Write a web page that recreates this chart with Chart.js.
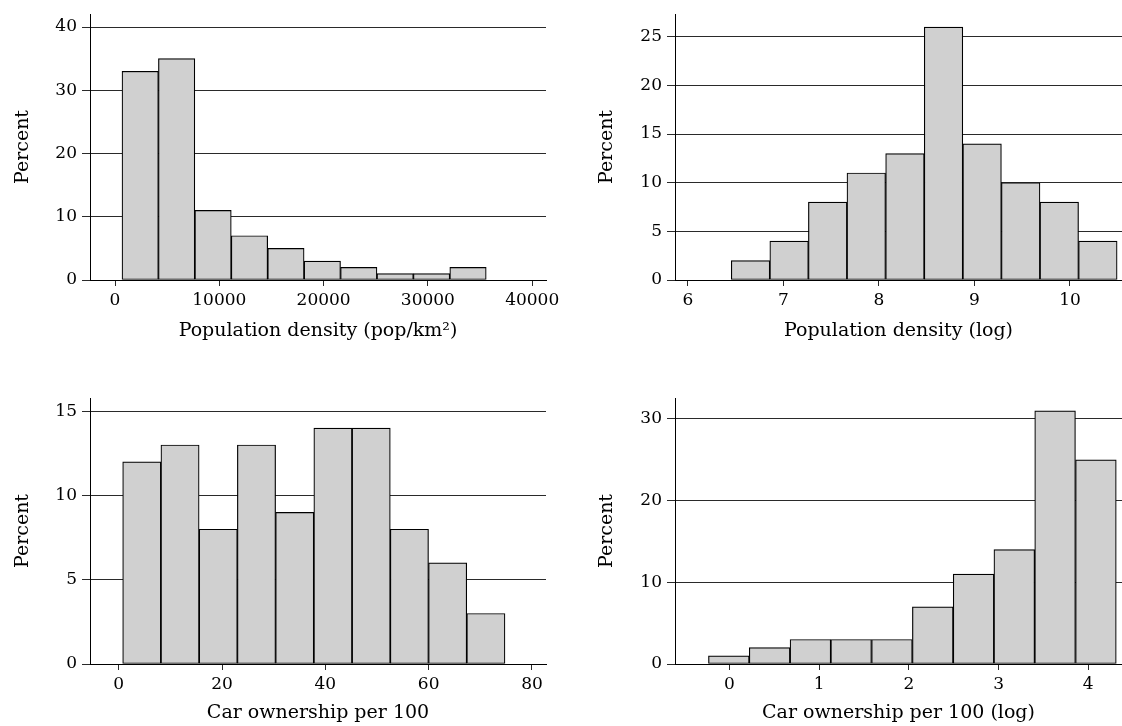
<!DOCTYPE html>
<html lang="en">
<head>
    <meta charset="UTF-8">
    <title>Population density and car ownership histograms</title>
    <script src="https://cdn.jsdelivr.net/npm/chart.js"></script>
    <style>
        body { margin: 0; background: #fff; }
        .panel { position: absolute; }
    </style>
</head>
<body>
    <div class="panel" style="left:0;top:0;width:600px;height:363px"><canvas id="densityChart"></canvas></div>
    <div class="panel" style="left:561px;top:0;width:561px;height:363px"><canvas id="logDensityChart"></canvas></div>
    <div class="panel" style="left:0;top:363px;width:600px;height:363px"><canvas id="carsChart"></canvas></div>
    <div class="panel" style="left:561px;top:363px;width:561px;height:363px"><canvas id="logCarsChart"></canvas></div>
    <script>
        // bin midpoints and percent per bin
        const densityBinMid = [2417, 5909, 9401, 12893, 16385, 19877, 23369, 26861, 30353, 33845];
        const densityPct = [33, 35, 11, 7, 5, 3, 2, 1, 1, 2];
        const densityXTicks = [0, 10000, 20000, 30000, 40000];
        const densityYTicks = [0, 10, 20, 30, 40];

        const logDensityBinMid = [6.655, 7.059, 7.463, 7.867, 8.272, 8.676, 9.080, 9.484, 9.888, 10.292];
        const logDensityPct = [2, 4, 8, 11, 13, 26, 14, 10, 8, 4];
        const logDensityXTicks = [6, 7, 8, 9, 10];
        const logDensityYTicks = [0, 5, 10, 15, 20, 25];

        const carsBinMid = [4.47, 11.87, 19.27, 26.67, 34.07, 41.47, 48.87, 56.27, 63.67, 71.07];
        const carsPct = [12, 13, 8, 13, 9, 14, 14, 8, 6, 3];
        const carsXTicks = [0, 20, 40, 60, 80];
        const carsYTicks = [0, 5, 10, 15];

        const logCarsBinMid = [-0.008, 0.447, 0.902, 1.356, 1.811, 2.266, 2.721, 3.175, 3.630, 4.085];
        const logCarsPct = [1, 2, 3, 3, 3, 7, 11, 14, 31, 25];
        const logCarsXTicks = [0, 1, 2, 3, 4];
        const logCarsYTicks = [0, 10, 20, 30];

        const FONT = "'DejaVu Serif', serif";
        const INK = '#000';
        const GRID = '#2a2a2a';

        function histogram(id, mids, pct, xTicks, yTicks, opt) {
            const ctx = document.getElementById(id).getContext('2d');
            return new Chart(ctx, {
                type: 'bar',
                data: {
                    datasets: [{
                        data: mids.map((x, i) => ({ x: x, y: pct[i] })),
                        backgroundColor: 'rgb(208, 208, 208)',
                        borderColor: '#000',
                        borderWidth: 1.2,
                        borderSkipped: false,
                        barPercentage: 1,
                        categoryPercentage: 1
                    }]
                },
                options: {
                    responsive: true,
                    maintainAspectRatio: false,
                    animation: false,
                    layout: { padding: { left: 0, top: opt.top, right: opt.right, bottom: 0 } },
                    plugins: { legend: { display: false }, tooltip: { enabled: false } },
                    scales: {
                        x: {
                            type: 'linear',
                            min: opt.xMin,
                            max: opt.xMax,
                            offset: false,
                            afterBuildTicks: s => { s.ticks = xTicks.map(v => ({ value: v })); },
                            afterFit: s => { s.height = opt.xHeight; },
                            grid: { offset: false, drawOnChartArea: false, drawTicks: true, tickLength: 6, color: GRID },
                            border: { display: true, color: '#000', width: 1 },
                            ticks: {
                                padding: 6,
                                color: INK,
                                autoSkip: false,
                                maxRotation: 0,
                                font: { family: FONT, size: 17, lineHeight: 1 },
                                callback: v => String(v)
                            },
                            title: {
                                display: true,
                                text: opt.xTitle,
                                color: INK,
                                font: { family: FONT, size: 19, lineHeight: 1.2 },
                                padding: { top: 0, bottom: opt.titleBottom }
                            }
                        },
                        y: {
                            min: 0,
                            max: opt.yMax,
                            afterBuildTicks: s => { s.ticks = yTicks.map(v => ({ value: v })); },
                            afterFit: s => { s.width = opt.yWidth; },
                            grid: { color: GRID, lineWidth: 1, drawTicks: true, tickLength: 8 },
                            border: { display: true, color: '#000', width: 1 },
                            ticks: {
                                padding: 5,
                                color: INK,
                                font: { family: FONT, size: 17, lineHeight: 1 }
                            },
                            title: {
                                display: true,
                                text: 'Percent',
                                color: INK,
                                font: { family: FONT, size: 19, lineHeight: 1.2 },
                                padding: { top: opt.yTitlePad, bottom: 0 }
                            }
                        }
                    }
                }
            });
        }

        histogram('densityChart', densityBinMid, densityPct, densityXTicks, densityYTicks, {
            xMin: -2397, xMax: 41323, yMax: 42.06, top: 14, right: 54, xHeight: 83, yWidth: 90,
            titleBottom: 21, yTitlePad: 11.6, xTitle: 'Population density (pop/km²)'
        });
        histogram('logDensityChart', logDensityBinMid, logDensityPct, logDensityXTicks, logDensityYTicks, {
            xMin: 5.864, xMax: 10.545, yMax: 27.34, top: 14, right: 0, xHeight: 83, yWidth: 114,
            titleBottom: 21, yTitlePad: 35.1, xTitle: 'Population density (log)'
        });
        histogram('carsChart', carsBinMid, carsPct, carsXTicks, carsYTicks, {
            xMin: -5.556, xMax: 82.71, yMax: 15.79, top: 35, right: 54, xHeight: 62, yWidth: 90,
            titleBottom: 1.5, yTitlePad: 11.6, xTitle: 'Car ownership per 100'
        });
        histogram('logCarsChart', logCarsBinMid, logCarsPct, logCarsXTicks, logCarsYTicks, {
            xMin: -0.608, xMax: 4.376, yMax: 32.57, top: 35, right: 0, xHeight: 62, yWidth: 114,
            titleBottom: 1.5, yTitlePad: 35.1, xTitle: 'Car ownership per 100 (log)'
        });
    </script>
</body>
</html>
